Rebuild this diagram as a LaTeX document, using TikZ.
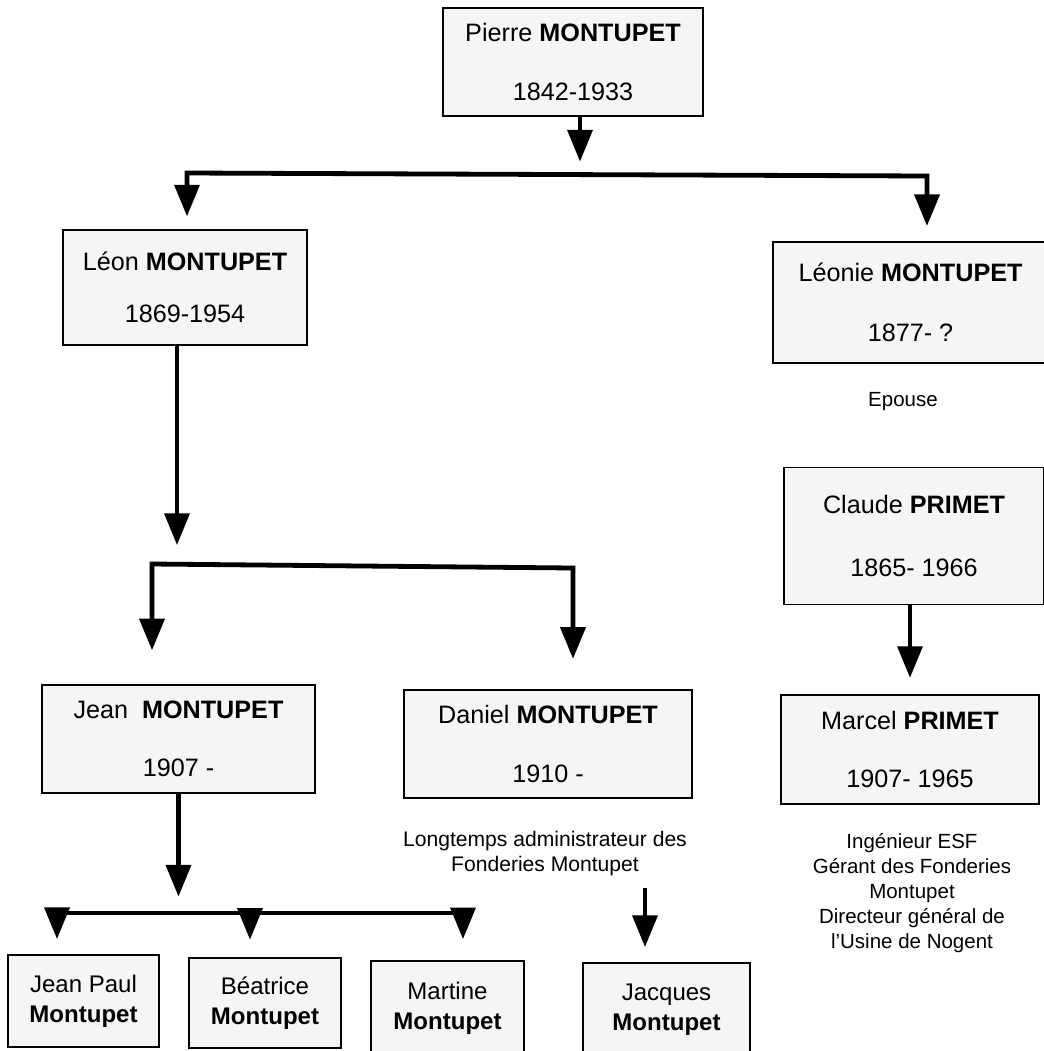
\documentclass[tikz,border=0pt]{standalone}
\usepackage{fontspec}
\setmainfont{Liberation Sans}
\usetikzlibrary{arrows.meta}

\begin{document}
\begin{tikzpicture}[
  x=0.03cm, y=-0.03cm,
  >={Triangle[width=21pt,length=27pt]},
  person/.style={draw, line width=1.2pt, fill=black!4, inner sep=0pt,
    align=center, font=\fontsize{21.5}{25}\selectfont},
  kid/.style={person, font=\fontsize{20.5}{25.5}\selectfont},
  note/.style={align=center, font=\fontsize{17.5}{21.3}\selectfont},
  link/.style={line width=3.9pt, ->},
  bar/.style={line width=4.1pt, <->}
  ]
  \useasboundingbox (0,0) rectangle (1044,1051);
  % first generation
  \node[person, minimum width=7.8cm, minimum height=3.24cm] (pierre) at (573,62)
    {Pierre \textbf{MONTUPET}\\[26pt]1842-1933};
  % second generation
  \node[person, minimum width=7.32cm, minimum height=3.45cm] (leon) at (185,287.5)
    {Léon \textbf{MONTUPET}\\[19pt]1869-1954};
  \node[person, minimum width=8.25cm, minimum height=3.63cm] (leonie) at (910.5,302.5)
    {Léonie \textbf{MONTUPET}\\[26pt]1877- ?};
  \node[note] (epouse) at (903,402) {Epouse};
  \node[person, minimum width=7.8cm, minimum height=4.11cm] (claude) at (914,536)
    {Claude \textbf{PRIMET}\\[28pt]1865- 1966};
  % third generation
  \node[person, minimum width=8.19cm, minimum height=3.24cm] (jean) at (178.5,739)
    {Jean\hspace{0.55em}\textbf{MONTUPET}\\[24.5pt]1907 -};
  \node[person, minimum width=8.64cm, minimum height=3.24cm] (daniel) at (548,744)
    {Daniel \textbf{MONTUPET}\\[26pt]1910 -};
  \node[note, font=\fontsize{18}{21.3}\selectfont] (danielnote) at (545,854)
    {Longtemps administrateur des\\Fonderies Montupet};
  \node[person, minimum width=7.74cm, minimum height=3.27cm] (marcel) at (910,749.5)
    {Marcel \textbf{PRIMET}\\[24.5pt]1907- 1965};
  \node[note] (marcelnote) at (912,893)
    {Ingénieur ESF\\Gérant des Fonderies\\Montupet\\Directeur général de\\l’Usine de Nogent};
  % fourth generation
  \node[kid, minimum width=4.53cm, minimum height=2.76cm] (jeanpaul) at (83.5,1001)
    {Jean Paul\\\textbf{Montupet}};
  \node[kid, minimum width=4.56cm, minimum height=2.7cm] (beatrice) at (265,1003)
    {Béatrice\\\textbf{Montupet}};
  \node[kid, minimum width=4.59cm, minimum height=2.82cm] (martine) at (447.5,1008)
    {Martine\\\textbf{Montupet}};
  \node[kid, minimum width=5.01cm, minimum height=2.82cm] (jacques) at (666.5,1010)
    {Jacques\\\textbf{Montupet}};
  % junctions
  \coordinate (bar1l) at (187,173);
  \coordinate (bar1m) at (580,174.5);
  \coordinate (bar1r) at (927,176);
  \coordinate (bar2l) at (152,564);
  \coordinate (bar2m) at (177,565);
  \coordinate (bar2r) at (573,568);
  \coordinate (bar3l) at (57,913);
  \coordinate (bar3m) at (250,913);
  \coordinate (bar3r) at (463,913);
  \coordinate (jacquestail) at (645,888);
  % connectors
  \draw[link, shorten >=11pt] (pierre.south -| bar1m) -- (bar1m);
  \draw[bar, shorten <=11pt, shorten >=13pt]
    (bar1l |- leon.north) -- (bar1l) -- (bar1r) -- (bar1r |- leonie.north);
  \draw[link, shorten >=17pt] (leon.south -| bar2m) -- (bar2m);
  \draw[bar, shorten <=29pt, shorten >=26pt]
    (bar2l |- jean.north) -- (bar2l) -- (bar2r) -- (bar2r |- daniel.north);
  \draw[link, shorten >=14pt] (claude.south -| marcel.north) -- (marcel.north);
  \draw[link, shorten >=14pt] (jean.south) -- (jean.south |- bar3m);
  \draw[bar, shorten <=13pt, shorten >=18pt]
    (bar3l |- jeanpaul.north) -- (bar3l) -- (bar3r) -- (bar3r |- martine.north);
  \draw[link, shorten >=15pt] (bar3m) -- (bar3m |- beatrice.north);
  \draw[link, shorten >=13pt] (jacquestail) -- (jacquestail |- jacques.north);
\end{tikzpicture}
\end{document}
